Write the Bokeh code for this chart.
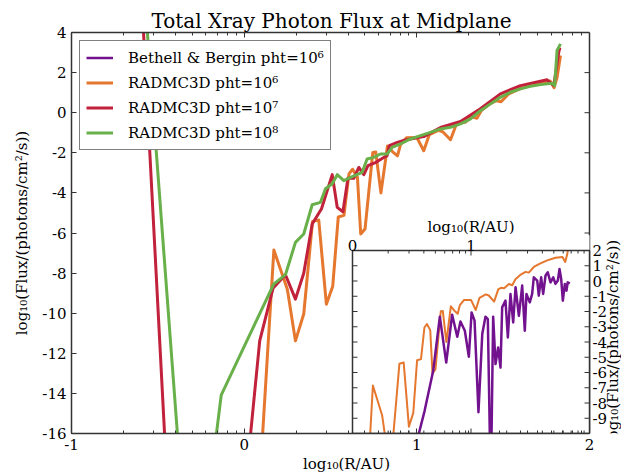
import numpy as np
from bokeh.plotting import figure
from bokeh.models import (Range1d, LinearAxis, FixedTicker, CustomJSTickFormatter,
                          Legend, LegendItem, Title)
from bokeh.embed import file_html
from bokeh.resources import INLINE
from bokeh.core.properties import value

FONT = "DejaVu Serif"
AX = "#333333"

title_text = "Total Xray Photon Flux at Midplane"
x_label = "log₁₀(R/AU)"
y_label = "log₁₀(Flux/(photons/cm²/s))"
series_labels = ["Bethell & Bergin pht=10⁶", "RADMC3D pht=10⁶",
                 "RADMC3D pht=10⁷", "RADMC3D pht=10⁸"]
series_colors = ["#72128f", "#e5772e", "#c1213b", "#69b04a"]

x_ticks = [-1, 0, 1, 2]
y_ticks = list(range(-16, 5, 2))
inset_x_ticks = [0, 1, 2]
inset_x_tick_labels = ["0", "1"]
inset_y_ticks = list(range(-10, 3))
inset_y_tick_labels = {v: str(v) for v in range(-9, 3)}

# log10(R/AU), log10(flux)
radmc_1e8_x = [-0.565, -0.378, -0.175, -0.133, 0.171, 0.239, 0.297, 0.345, 0.394, 0.442,
               0.471, 0.510, 0.539, 0.577, 0.616, 0.683, 0.712, 0.750, 0.789, 0.828,
               0.857, 0.905, 0.963, 1.021, 1.079, 1.137, 1.195, 1.253, 1.311, 1.368,
               1.426, 1.484, 1.542, 1.600, 1.658, 1.716, 1.783, 1.798, 1.812, 1.832]
radmc_1e8_y = [4.5, -17, -17, -14.09, -8.55, -8.08, -6.47, -6.05, -4.59, -4.47,
               -3.79, -3.54, -3.09, -3.39, -3.23, -2.98, -2.31, -2.23, -2.06, -2.06,
               -1.73, -1.56, -1.31, -1.14, -0.98, -0.81, -0.73, -0.56, -0.31, 0.10,
               0.44, 0.77, 1.02, 1.19, 1.32, 1.40, 1.47, 1.35, 3.10, 3.43]

radmc_1e7_x = [-0.586, -0.455, 0.026, 0.090, 0.167, 0.239, 0.297, 0.345, 0.394, 0.448,
               0.510, 0.539, 0.572, 0.601, 0.635, 0.664, 0.693, 0.717, 0.760, 0.801,
               0.828, 0.841, 0.886, 0.924, 0.963, 1.040, 1.137, 1.253, 1.368, 1.484,
               1.600, 1.754, 1.793, 1.822, 1.829]
radmc_1e7_y = [4.5, -17, -17, -11.38, -8.76, -8.08, -9.30, -8.01, -5.55, -4.79,
               -3.09, -4.72, -4.94, -3.27, -3.27, -2.73, -3.09, -2.64, -2.49, -2.27,
               -2.14, -1.64, -1.48, -1.39, -1.31, -1.19, -0.74, -0.44, 0.20, 0.94,
               1.35, 1.64, 1.35, 3.02, 3.25]

radmc_1e6_x = [0.100, 0.172, 0.250, 0.297, 0.345, 0.396, 0.432, 0.476, 0.513, 0.545,
               0.578, 0.607, 0.628, 0.656, 0.675, 0.700, 0.745, 0.762, 0.792, 0.830,
               0.860, 0.888, 0.905, 0.940, 1.000, 1.040, 1.072, 1.125, 1.150, 1.195,
               1.230, 1.253, 1.280, 1.320, 1.348, 1.375, 1.420, 1.460, 1.488, 1.530,
               1.586, 1.643, 1.713, 1.772, 1.795, 1.812, 1.832]
radmc_1e6_y = [-17, -6.85, -8.8, -11.38, -10.04, -5.42, -5.35, -9.55, -8.65, -5.2,
               -5.12, -3.05, -2.82, -3.22, -6.05, -5.8, -1.98, -1.96, -4.0, -1.66,
               -1.95, -2.15, -1.6, -1.25, -1.24, -1.9, -1.1, -0.88, -0.95, -1.35,
               -0.55, -0.45, -0.48, -0.2, -0.28, 0.12, 0.42, 0.6, 0.55, 0.92,
               1.15, 1.35, 1.52, 1.58, 1.25, 1.75, 2.85]

bethell_x = [0.527, 0.608, 0.681, 0.737, 0.791, 0.841, 0.884, 0.911, 0.948, 0.982,
             1.005, 1.030, 1.063, 1.095, 1.122, 1.142, 1.163, 1.170, 1.187, 1.207,
             1.229, 1.249, 1.263, 1.291, 1.311, 1.333, 1.356, 1.376, 1.404, 1.432,
             1.454, 1.468, 1.496, 1.516, 1.530, 1.559, 1.572, 1.592, 1.609, 1.629,
             1.648, 1.671, 1.694, 1.713, 1.733, 1.747, 1.761, 1.775, 1.792, 1.806,
             1.816, 1.834]
bethell_y = [-11, -8.53, -5.89, -2.34, -5.35, -2.21, -3.66, -2.65, -3.26, -4.97,
             -2.06, -2.6, -8.6, -3.48, -2.34, -2.5, -12, -12, -2.34, -5.45,
             -4.36, -5.68, -1.73, -1.29, -3.7, -0.85, -2.72, -0.41, -2.28, -0.3,
             -3.26, -0.85, -1.4, -0.85, 0.24, 0.03, -0.96, 0.24, -0.85, 0.36,
             0.57, -0.09, 0.24, -0.19, 0.03, 0.79, 0.14, -1.29, -0.19, -0.63,
             -0.09, -0.15]

# ---------------- layout (pixels) ----------------
W, H = 621, 475
FRAME_L, FRAME_T, FRAME_B = 71, 32, 433
SPINE_R = 589                 # right edge of the axes box
INSET_L, INSET_T = 352, 250   # inset box top-left corner
RLABEL_GAP = 23               # inset y-title centre, px right of the box
X_MAIN, Y_MAIN = (-1, 2), (-16, 4)
X_IN, Y_IN = (0, 2), (-10, 2)

# the frame reaches the right edge of the window so that the inset's right-hand
# tick labels and axis title (outside the box) can be drawn inside it
mx = (SPINE_R - FRAME_L) / (X_MAIN[1] - X_MAIN[0])
x_view = (X_MAIN[0], X_MAIN[1] + (W - SPINE_R) / mx)
ix = (SPINE_R - INSET_L) / (X_IN[1] - X_IN[0])
ix_view = (X_IN[0] - (INSET_L - FRAME_L) / ix, X_IN[1] + (W - SPINE_R) / ix)
iy = (FRAME_B - INSET_T) / (Y_IN[1] - Y_IN[0])
iy_view = (Y_IN[0], Y_IN[1] + (INSET_T - FRAME_T) / iy)
centre_shift = (FRAME_L + SPINE_R) / 2 - (FRAME_L + W) / 2

p = figure(width=W, height=H, x_range=Range1d(*x_view), y_range=Range1d(*Y_MAIN),
           toolbar_location=None, output_backend="svg",
           min_border_left=FRAME_L, min_border_right=0, min_border_top=FRAME_T,
           min_border_bottom=H - FRAME_B, x_axis_location=None, y_axis_location=None)
p.extra_x_ranges = {"ix": Range1d(*ix_view)}
p.extra_y_ranges = {"iy": Range1d(*iy_view)}
p.grid.visible = False
p.outline_line_color = None
p.background_fill_color = "white"
p.border_fill_color = "white"

log_minor = [n + np.log10(k) for n in (-1, 0, 1) for k in range(2, 10)]
int_fmt = CustomJSTickFormatter(code="return tick.toFixed(0);")


def style_axis(ax, labels=True):
    ax.axis_line_color = AX
    ax.axis_line_width = 1.5
    ax.major_tick_line_color = AX
    ax.minor_tick_line_color = AX
    ax.major_tick_in = 5
    ax.major_tick_out = 0
    ax.minor_tick_in = 3
    ax.minor_tick_out = 0
    ax.major_label_text_font = FONT
    ax.major_label_text_font_size = "15px" if labels else "0px"
    ax.major_label_text_color = "black"
    ax.axis_label_text_font = FONT
    ax.axis_label_text_font_size = "15px"
    ax.axis_label_text_font_style = "normal"
    ax.axis_label_text_color = "black"


xb = LinearAxis(ticker=FixedTicker(ticks=x_ticks, minor_ticks=log_minor),
                formatter=int_fmt, bounds=X_MAIN)
style_axis(xb)
xb.major_label_standoff = 5
p.add_layout(xb, "below")
p.add_layout(Title(text=x_label, align="center", offset=centre_shift, standoff=0,
                   text_font=FONT, text_font_size="15px", text_font_style="normal",
                   text_color="black"), "below")

xt = LinearAxis(ticker=FixedTicker(ticks=x_ticks, minor_ticks=log_minor),
                formatter=CustomJSTickFormatter(code="return '';"), bounds=X_MAIN)
style_axis(xt, labels=False)
xt.major_label_standoff = 0
p.add_layout(xt, "above")
# centre the title over the axes box (en spaces balance the wider frame)
p.add_layout(Title(text=title_text + "\u2002" * 3, align="center", standoff=0,
                   text_font=FONT, text_font_size="20px", text_font_style="normal",
                   text_color="black"), "above")

yl = LinearAxis(ticker=FixedTicker(ticks=y_ticks, minor_ticks=[]),
                formatter=int_fmt, axis_label=y_label)
style_axis(yl)
yl.major_label_standoff = 5
yl.axis_label_standoff = 8
p.add_layout(yl, "left")

# ---------------- main lines ----------------
r_or = p.line(radmc_1e6_x, radmc_1e6_y, line_color=series_colors[1], line_width=3,
              line_join="round")
r_rd = p.line(radmc_1e7_x, radmc_1e7_y, line_color=series_colors[2], line_width=3,
              line_join="round")
r_gr = p.line(radmc_1e8_x, radmc_1e8_y, line_color=series_colors[3], line_width=3,
              line_join="round")

# right spine with the main ticks above the inset
p.segment(x0=[X_MAIN[1]], y0=[Y_MAIN[0]], x1=[X_MAIN[1]], y1=[Y_MAIN[1]],
          line_color=AX, line_width=1.5)
main_right = [v for v in y_ticks if v >= -6]
p.ray(x=[X_MAIN[1]] * len(main_right), y=main_right, length=5, angle=np.pi,
      length_units="screen", line_color=AX, line_width=1)

# ---------------- inset ----------------
IN = dict(x_range_name="ix", y_range_name="iy")
p.quad(left=[X_IN[0]], right=[X_IN[1]], bottom=[Y_IN[0]], top=[Y_IN[1]],
       fill_color="white", line_color=None, **IN)
p.line(radmc_1e6_x, radmc_1e6_y, line_color=series_colors[1], line_width=2,
       line_join="round", **IN)
r_pu = p.line(bethell_x, bethell_y, line_color=series_colors[0], line_width=2.5,
              line_join="round", **IN)
# hide the part of the orange curve above the inset box
p.quad(left=[1.6], right=[X_IN[1]], bottom=[Y_IN[1]], top=[Y_IN[1] + 1.0],
       fill_color="white", line_color=None, **IN)
p.quad(left=[X_IN[0]], right=[X_IN[1]], bottom=[Y_IN[0]], top=[Y_IN[1]],
       fill_color=None, line_color=AX, line_width=1.5, **IN)

in_minor = [n + np.log10(k) for n in (0, 1) for k in range(2, 10)]
# left- and right-edge ticks
for xx, ang in ((X_IN[0], 0), (X_IN[1], np.pi)):
    p.ray(x=[xx] * len(inset_y_ticks), y=inset_y_ticks, length=5, angle=ang,
          length_units="screen", line_color=AX, line_width=1, **IN)
# top-edge and bottom-edge ticks
for yy, ang in ((Y_IN[1], -np.pi / 2), (Y_IN[0], np.pi / 2)):
    p.ray(x=inset_x_ticks, y=[yy] * len(inset_x_ticks), length=5, angle=ang,
          length_units="screen", line_color=AX, line_width=1, **IN)
    p.ray(x=in_minor, y=[yy] * len(in_minor), length=3, angle=ang,
          length_units="screen", line_color=AX, line_width=1, **IN)

TXT = dict(text_font=value(FONT), text_font_size="15px", text_color="black")
p.text(x=inset_x_ticks[:2], y=[Y_IN[1]] * 2, text=inset_x_tick_labels,
       y_offset=-5, text_align="center", text_baseline="alphabetic", **TXT, **IN)
p.text(x=[(X_IN[0] + X_IN[1]) / 2], y=[Y_IN[1]], text=[x_label], y_offset=-24,
       text_align="center", text_baseline="alphabetic", **TXT, **IN)
lab_y = list(inset_y_tick_labels.keys())
p.text(x=[X_IN[1]] * len(lab_y), y=lab_y, text=list(inset_y_tick_labels.values()),
       x_offset=3, text_align="left", text_baseline="middle", **TXT, **IN)
p.text(x=[X_IN[1] + RLABEL_GAP / ix], y=[(Y_IN[0] + Y_IN[1]) / 2], text=[y_label],
       angle=np.pi / 2, text_align="center", text_baseline="middle", **TXT, **IN)

# ---------------- legend ----------------
legend = Legend(items=[LegendItem(label=series_labels[0], renderers=[r_pu]),
                       LegendItem(label=series_labels[1], renderers=[r_or]),
                       LegendItem(label=series_labels[2], renderers=[r_rd]),
                       LegendItem(label=series_labels[3], renderers=[r_gr])],
                location="top_left")
legend.margin = 8
legend.padding = 6
legend.spacing = 4
legend.glyph_width = 27
legend.glyph_height = 21
legend.label_height = 21
legend.label_standoff = 15
legend.label_text_font = FONT
legend.label_text_font_size = "15px"
legend.label_text_color = "black"
legend.border_line_color = "black"
legend.border_line_width = 1
legend.background_fill_alpha = 1
p.add_layout(legend)

open("out.html", "w").write(file_html(p, INLINE))
